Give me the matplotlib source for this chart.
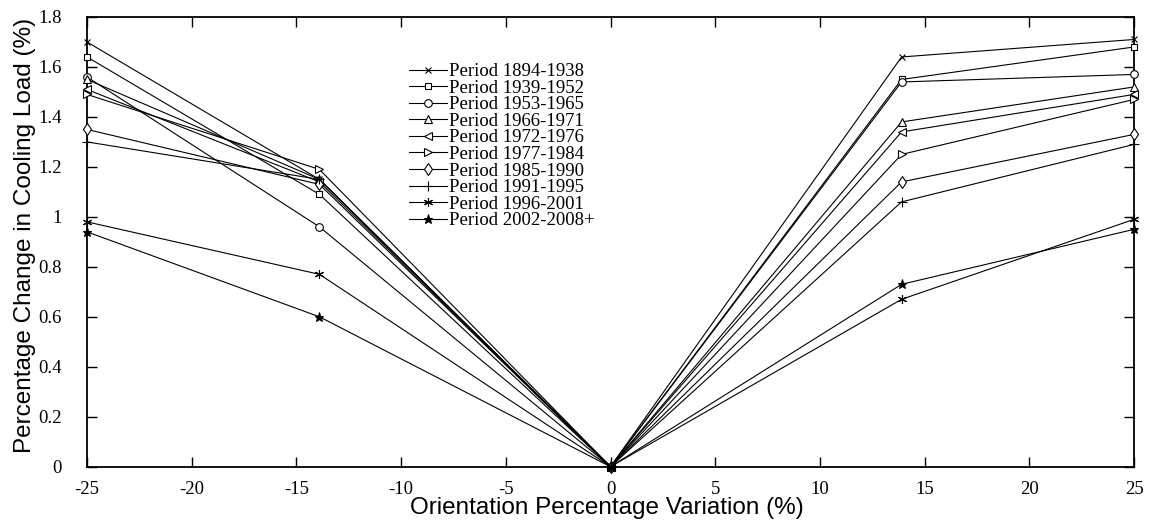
import matplotlib
matplotlib.use("Agg")
import matplotlib.pyplot as plt

# Orientation variation (%) and percentage change in cooling load (%) per period
orientation = [-25, -13.9, 0, 13.9, 25]

periods = [
    "Period 1894-1938",
    "Period 1939-1952",
    "Period 1953-1965",
    "Period 1966-1971",
    "Period 1972-1976",
    "Period 1977-1984",
    "Period 1985-1990",
    "Period 1991-1995",
    "Period 1996-2001",
    "Period 2002-2008+",
]

p1894 = [1.70, 1.15, 0.0, 1.64, 1.71]
p1939 = [1.64, 1.09, 0.0, 1.55, 1.68]
p1953 = [1.56, 0.96, 0.0, 1.54, 1.57]
p1966 = [1.55, 1.15, 0.0, 1.38, 1.52]
p1972 = [1.51, 1.14, 0.0, 1.34, 1.49]
p1977 = [1.49, 1.19, 0.0, 1.25, 1.47]
p1985 = [1.35, 1.13, 0.0, 1.14, 1.33]
p1991 = [1.30, 1.15, 0.0, 1.06, 1.29]
p1996 = [0.98, 0.77, 0.0, 0.67, 0.99]
p2002 = [0.94, 0.60, 0.0, 0.73, 0.95]

series = [p1894, p1939, p1953, p1966, p1972, p1977, p1985, p1991, p1996, p2002]

x_ticks = [-25, -20, -15, -10, -5, 0, 5, 10, 15, 20, 25]
y_ticks = [0, 0.2, 0.4, 0.6, 0.8, 1.0, 1.2, 1.4, 1.6, 1.8]

# marker, size, filled
styles = [
    ("x", 4.5, False),
    ("s", 5.0, False),
    ("o", 5.5, False),
    ("^", 6.0, False),
    ("<", 6.0, False),
    (">", 6.0, False),
    ("d", 6.5, False),
    ("+", 6.5, False),
    ((6, 2, 0), 6.5, False),
    ("*", 6.5, True),
]

plt.rcParams["font.family"] = ["Liberation Serif", "DejaVu Serif"]
plt.rcParams["axes.unicode_minus"] = False

fig = plt.figure(figsize=(11.55, 5.26), dpi=100)
ax = fig.add_axes([87 / 1155, 1 - 466.7 / 526, 1047 / 1155, 449.7 / 526])

handles = []
for vals, label, (mk, ms, filled) in zip(series, periods, styles):
    (ln,) = ax.plot(
        orientation, vals,
        color="black", linewidth=0.8,
        marker=mk, markersize=ms, markeredgewidth=0.8,
        markerfacecolor="black" if filled else "white",
        markeredgecolor="black", label=label, clip_on=False, zorder=3,
    )
    handles.append(ln)

ax.set_xlim(-25, 25)
ax.set_ylim(0, 1.8)
ax.set_xticks(x_ticks)
ax.set_xticklabels([f"{t:g}" for t in x_ticks])
ax.set_yticks(y_ticks)
ax.set_yticklabels([f"{t:g}" for t in y_ticks])

ax.tick_params(axis="both", direction="in", length=7, width=1.0,
               labelsize=13.5, top=True, right=True)
ax.tick_params(axis="x", pad=10)
ax.tick_params(axis="y", pad=18)
for sp in ax.spines.values():
    sp.set_linewidth(1.3)

ax.set_xlabel("Orientation Percentage Variation (%)",
              family="Liberation Sans", fontsize=17.5)
ax.set_ylabel("Percentage Change in Cooling Load (%)",
              family="Liberation Sans", fontsize=17.5)
ax.xaxis.set_label_coords(0.497, -0.067)
ax.yaxis.set_label_coords(-0.049, 0.515)

leg = ax.legend(
    handles=handles, loc="upper left",
    bbox_to_anchor=((409 - 87) / 1047, (466.7 - 63) / 449.7),
    frameon=False, fontsize=13.5, labelspacing=-0.03,
    handlelength=2.0, handletextpad=0.15, borderpad=0, borderaxespad=0,
)

fig.savefig("out.png", dpi=100)
